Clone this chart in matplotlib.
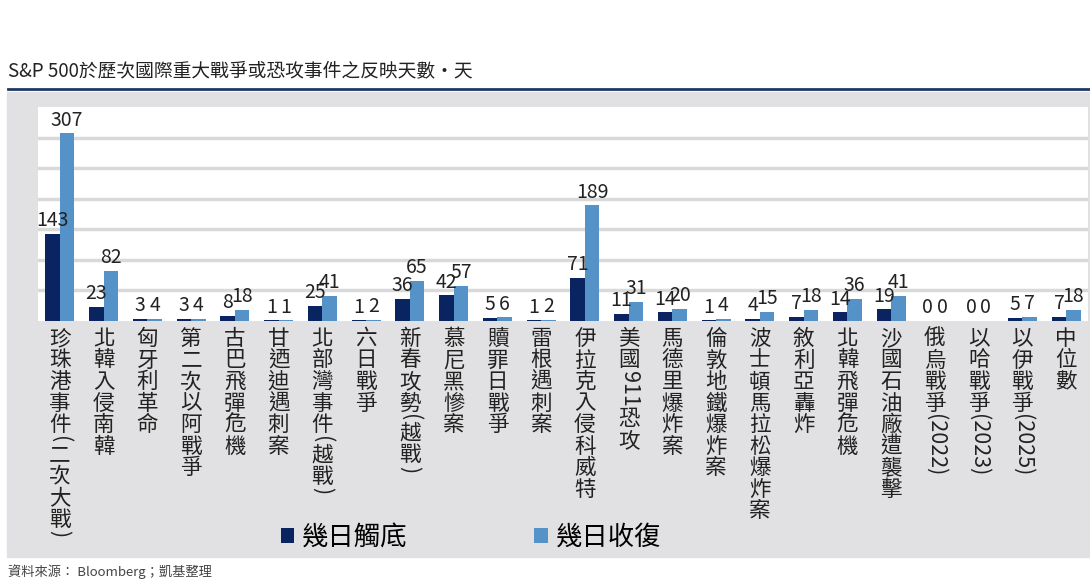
import matplotlib.pyplot as plt
import matplotlib.patches as mpatches
import matplotlib.lines as mlines
import numpy as np

plt.rcParams['font.family'] = ['Noto Sans CJK TC', 'DejaVu Sans']

# data
events = ["珍珠港事件(二次大戰)", "北韓入侵南韓", "匈牙利革命", "第二次以阿戰爭", "古巴飛彈危機",
          "甘迺迪遇刺案", "北部灣事件(越戰)", "六日戰爭", "新春攻勢(越戰)", "慕尼黑慘案",
          "贖罪日戰爭", "雷根遇刺案", "伊拉克入侵科威特", "美國911恐攻", "馬德里爆炸案",
          "倫敦地鐵爆炸案", "波士頓馬拉松爆炸案", "敘利亞轟炸", "北韓飛彈危機", "沙國石油廠遭襲擊",
          "俄烏戰爭(2022)", "以哈戰爭(2023)", "以伊戰爭(2025)", "中位數"]
days_bottom = [143, 23, 3, 3, 8, 1, 25, 1, 36, 42, 5, 1, 71, 11, 14, 1, 4, 7, 14, 19, 0, 0, 5, 7]
days_recover = [307, 82, 4, 4, 18, 1, 41, 2, 65, 57, 6, 2, 189, 31, 20, 4, 15, 18, 36, 41, 0, 0, 7, 18]

dark = "#0a2462"
light = "#5592c8"
panel = "#e1e1e3"

fig = plt.figure(figsize=(10.9, 5.82), dpi=100)

# gray panel and title rule
fig.patches.append(mpatches.Rectangle((7 / 1090, 25 / 582), 1, 465 / 582,
                                      transform=fig.transFigure, color=panel, zorder=-10))
fig.lines.append(mlines.Line2D([8 / 1090, 1], [1 - 89 / 582] * 2, transform=fig.transFigure,
                               color="#1f3864", lw=2))
fig.text(8 / 1090, 1 - 71 / 582, "S&P 500於歷次國際重大戰爭或恐攻事件之反映天數‧天",
         fontsize=13.5, color="#222222", va="center", ha="left")
fig.text(8 / 1090, 1 - 572 / 582, "資料來源： Bloomberg；凱基整理",
         fontsize=9.5, color="#444444", va="center", ha="left", style="italic")

ax = fig.add_axes([38 / 1090, 1 - 321 / 582, 1050 / 1090, 214 / 582])
ax.set_facecolor("white")
x = np.arange(len(events))
w = 0.33
b1 = ax.bar(x - w / 2, days_bottom, w, color=dark, zorder=3, label="幾日觸底")
b2 = ax.bar(x + w / 2, days_recover, w, color=light, zorder=3, label="幾日收復")
ax.set_xlim(-0.5, len(events) - 0.5)
ax.set_ylim(0, 350)
for yv in range(50, 350, 50):
    ax.axhline(yv, color="#d9d9d9", lw=2.5, zorder=1)
for s in ax.spines.values():
    s.set_visible(False)
ax.set_yticks([])
ax.set_xticks([])

for bars, vals in ((b1, days_bottom), (b2, days_recover)):
    for r, v in zip(bars, vals):
        ax.annotate(str(v), (r.get_x() + r.get_width() / 2, v), xytext=(0, 2),
                    textcoords="offset points", ha="center", va="bottom",
                    fontsize=14, color="#222222", zorder=4)

# vertical category labels: CJK upright, latin runs rotated
fig.canvas.draw()
renderer = fig.canvas.get_renderer()
fs = 15.5
trans = ax.get_xaxis_transform()


def runs(s):
    out = []
    for ch in s:
        latin = ord(ch) < 128
        if out and latin and out[-1][1]:
            out[-1][0] += ch
        else:
            out.append([ch, latin])
    return out


for i, name in enumerate(events):
    off = 5
    for txt, latin in runs(name):
        if latin:
            t = ax.annotate(txt, (i, 0), xycoords=trans, xytext=(0, -off),
                            textcoords="offset points", ha="center", va="top",
                            rotation=270, fontsize=fs, color="#222222",
                            annotation_clip=False)
            h = t.get_window_extent(renderer).height * 72 / fig.dpi
            off += h + 1
        else:
            ax.annotate(txt, (i, 0), xycoords=trans, xytext=(0, -off),
                        textcoords="offset points", ha="center", va="top",
                        fontsize=fs, color="#222222", annotation_clip=False)
            off += fs

fig.legend(handles=[b1, b2], loc="center", bbox_to_anchor=(471 / 1090, 1 - 537 / 582),
           ncol=2, frameon=False, fontsize=19, handlelength=0.5, handleheight=0.5,
           handletextpad=0.3, columnspacing=4.8)

fig.savefig("out.png", dpi=100)
